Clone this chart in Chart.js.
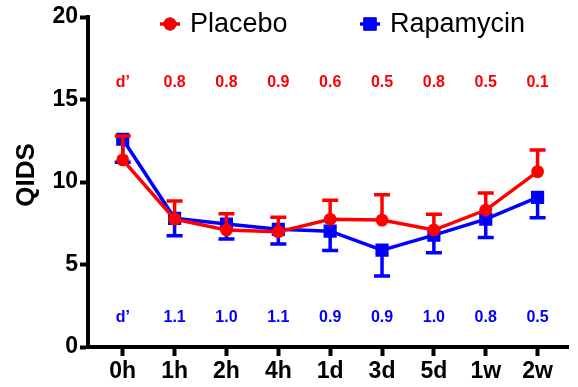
<!DOCTYPE html>
<html lang="en">
<head>
    <meta charset="UTF-8">
    <title>QIDS</title>
    <script src="https://cdn.jsdelivr.net/npm/chart.js"></script>
    <style>
        body { margin: 0; background: #fff; }
        #wrap { width: 578px; height: 387px; }
    </style>
</head>
<body>
<div id="wrap"><canvas id="myChart" width="578" height="387"></canvas></div>
<script>
// time points
const timeLabels = ['0h', '1h', '2h', '4h', '1d', '3d', '5d', '1w', '2w'];

// mean QIDS per group
const placebo   = [11.34, 7.75, 7.09, 6.98, 7.74, 7.69, 7.09, 8.30, 10.63];
const rapamycin = [12.59, 7.80, 7.45, 7.13, 7.02, 5.87, 6.78, 7.75, 9.07];

// error bars (placebo drawn up, rapamycin drawn down)
const placeboErr   = [1.45, 1.10, 0.99, 0.88, 1.15, 1.54, 0.95, 1.03, 1.31];
const rapamycinErr = [1.39, 1.06, 0.91, 0.89, 1.17, 1.56, 1.07, 1.11, 1.24];

// effect sizes printed in the plot
const placeboD   = ['d\u2019', '0.8', '0.8', '0.9', '0.6', '0.5', '0.8', '0.5', '0.1'];
const rapamycinD = ['d\u2019', '1.1', '1.0', '1.1', '0.9', '0.9', '1.0', '0.8', '0.5'];

const yTicks = [0, 5, 10, 15, 20];

const RED = '#ff0000';
const BLUE = '#0000ff';
const FONT = '"Liberation Sans", Arial, Helvetica, sans-serif';

const toPoints = arr => arr.map((v, i) => ({ x: i, y: v }));

// one-sided error bars, drawn under each dataset's line
const errorBarPlugin = {
  id: 'errorBars',
  beforeDatasetDraw(chart, args) {
    const ds = chart.data.datasets[args.index];
    if (!ds.errors) return;
    const ctx = chart.ctx;
    const xs = chart.scales.x, ys = chart.scales.y;
    ctx.save();
    ctx.strokeStyle = ds.borderColor;
    ctx.lineWidth = 3.5;
    ds.data.forEach((p, i) => {
      const px = xs.getPixelForValue(p.x);
      const y0 = ys.getPixelForValue(p.y);
      const y1 = ys.getPixelForValue(p.y + ds.errDir * ds.errors[i]);
      ctx.beginPath();
      ctx.moveTo(px, y0);
      ctx.lineTo(px, y1);
      ctx.moveTo(px - 8, y1);
      ctx.lineTo(px + 8, y1);
      ctx.stroke();
    });
    ctx.restore();
  }
};

// d' rows
const dLabelPlugin = {
  id: 'dLabels',
  afterDatasetsDraw(chart, args, opts) {
    const ctx = chart.ctx;
    const xs = chart.scales.x, ys = chart.scales.y;
    ctx.save();
    ctx.font = 'bold 16px ' + FONT;
    ctx.textAlign = 'center';
    ctx.textBaseline = 'middle';
    opts.rows.forEach(row => {
      ctx.fillStyle = row.color;
      row.labels.forEach((t, i) => {
        ctx.fillText(t, xs.getPixelForValue(i), ys.getPixelForValue(row.at));
      });
    });
    ctx.restore();
  }
};

// legend with line + marker inside the plot, plus the y title
const lineLegendPlugin = {
  id: 'lineLegend',
  afterDraw(chart, args, opts) {
    const ctx = chart.ctx;
    ctx.save();
    chart.data.datasets.forEach((ds, i) => {
      const x = opts.xs[i], y = opts.y;
      ctx.strokeStyle = ds.borderColor;
      ctx.lineWidth = 3.5;
      ctx.beginPath();
      ctx.moveTo(x, y);
      ctx.lineTo(x + 20, y);
      ctx.stroke();
      Chart.helpers.drawPoint(ctx, {
        pointStyle: ds.pointStyle,
        radius: ds.pointRadius,
        rotation: 0,
        borderWidth: 0
      }, x + 10, y);
      ctx.fillStyle = ds.borderColor;
      ctx.fill();
      ctx.fillStyle = '#000';
      ctx.font = '27px ' + FONT;
      ctx.textBaseline = 'middle';
      ctx.textAlign = 'left';
      ctx.fillText(ds.label, x + 30, y + 1);
    });

    // axis title
    ctx.translate(opts.titleX, opts.titleY);
    ctx.rotate(-Math.PI / 2);
    ctx.fillStyle = '#000';
    ctx.font = 'bold 26px ' + FONT;
    ctx.textAlign = 'center';
    ctx.textBaseline = 'middle';
    ctx.fillText('QIDS', 0, 0);
    ctx.restore();
  }
};

new Chart(document.getElementById('myChart'), {
  type: 'line',
  data: {
    datasets: [{
      label: 'Placebo',
      data: toPoints(placebo),
      errors: placeboErr,
      errDir: 1,
      borderColor: RED,
      backgroundColor: RED,
      borderWidth: 3.5,
      pointStyle: 'circle',
      pointRadius: 6.4,
      pointBorderWidth: 0,
      tension: 0
    }, {
      label: 'Rapamycin',
      data: toPoints(rapamycin),
      errors: rapamycinErr,
      errDir: -1,
      borderColor: BLUE,
      backgroundColor: BLUE,
      borderWidth: 3.5,
      pointStyle: 'rect',
      pointRadius: 9.3,
      pointBorderWidth: 0,
      tension: 0
    }]
  },
  options: {
    responsive: false,
    animation: false,
    layout: { padding: { top: 17, right: 0, left: 0, bottom: 0 } },
    plugins: {
      legend: { display: false },
      tooltip: { enabled: false },
      dLabels: {
        rows: [
          { labels: placeboD, color: RED, at: 16.05 },
          { labels: rapamycinD, color: BLUE, at: 1.8 }
        ]
      },
      lineLegend: { xs: [160, 360], y: 24, titleX: 27, titleY: 175 }
    },
    scales: {
      x: {
        type: 'linear',
        min: -0.67,
        max: 8.6,
        afterBuildTicks: s => { s.ticks = timeLabels.map((_, i) => ({ value: i })); },
        afterFit: s => { s.height = 40; },
        ticks: {
          callback: v => timeLabels[v],
          color: '#000',
          font: { family: FONT, size: 23, weight: 'bold' },
          padding: 2,
          maxRotation: 0,
          autoSkip: false
        },
        grid: { drawOnChartArea: false, drawTicks: true, tickLength: 9, tickWidth: 4, tickColor: '#000' },
        border: { display: true, width: 4, color: '#000' }
      },
      y: {
        min: 0,
        max: 20,
        afterBuildTicks: s => { s.ticks = yTicks.map(v => ({ value: v })); },
        afterFit: s => { s.width = 88; },
        ticks: {
          color: '#000',
          font: { family: FONT, size: 23, weight: 'bold' },
          padding: 2
        },
        grid: { drawOnChartArea: false, drawTicks: true, tickLength: 8, tickWidth: 4, tickColor: '#000' },
        border: { display: true, width: 4, color: '#000' }
      }
    }
  },
  plugins: [errorBarPlugin, dLabelPlugin, lineLegendPlugin]
});
</script>
</body>
</html>
